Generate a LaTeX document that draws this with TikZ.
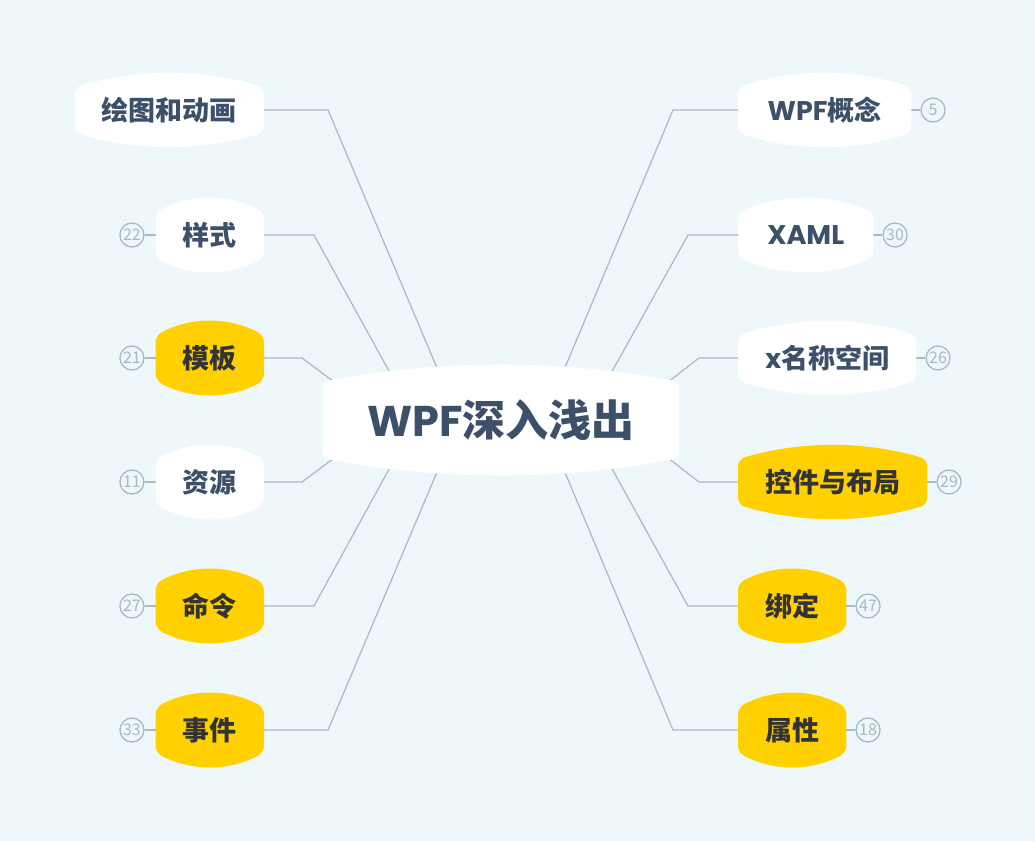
\documentclass[tikz,border=0pt]{standalone}
\usepackage{fontspec}
\setmainfont{Noto Sans CJK SC}
\newfontfamily\latinfont{Poppins}
\usepackage{tikz}
\usetikzlibrary{calc,positioning}

\definecolor{paper}{HTML}{EEF7FA}
\definecolor{ink}{HTML}{3D5069}
\definecolor{darkink}{HTML}{333333}
\definecolor{gold}{HTML}{FFD100}
\definecolor{wire}{HTML}{A8B8C9}

\pgfdeclarelayer{background}
\pgfsetlayers{background,main}

% cushion shape behind a node: node, bulge, fill
\newcommand{\blob}[3]{%
  \fill[#3, rounded corners=7pt]
    let \p1=(#1.north west), \p2=(#1.south east), \n1={(\x2-\x1)/3} in
    (\x1,\y1-#2pt)
    .. controls (\x1+\n1,\y1+#2pt/3) and (\x2-\n1,\y1+#2pt/3) .. (\x2,\y1-#2pt)
    -- (\x2,\y2+#2pt)
    .. controls (\x2-\n1,\y2-#2pt/3) and (\x1+\n1,\y2-#2pt/3) .. (\x1,\y2+#2pt)
    -- cycle;
}

\begin{document}
\begin{tikzpicture}[x=1pt, y=-1pt,
  topic/.style={inner sep=0pt, minimum height=73pt, text=ink, font=\fontsize{27}{27}\bfseries},
  hot/.style={topic, text=darkink},
  tag/.style={circle, draw=wire, line width=1.3pt, inner sep=0pt, minimum size=24pt, text=wire, font=\fontsize{16}{16}\selectfont},
  link/.style={draw=wire, line width=1.2pt}]

\useasboundingbox (0,0) rectangle (1035,841);

\node[topic, minimum width=356pt, minimum height=110pt, font=\fontsize{43}{43}\bfseries] (c) at (501,420) {{\latinfont WPF}深入浅出};

\node[topic, minimum width=189pt, anchor=east] (d1) at (264,110) {绘图和动画};
\node[topic, minimum width=108pt, anchor=east] (d2) at (264,235) {样式};
\node[hot, minimum width=108pt, anchor=east] (d3) at (264,358) {模板};
\node[topic, minimum width=108pt, anchor=east] (d4) at (264,482) {资源};
\node[hot, minimum width=108pt, anchor=east] (d5) at (264,606) {命令};
\node[hot, minimum width=108pt, anchor=east] (d6) at (264,730) {事件};

\node[topic, minimum width=173pt, anchor=west] (r1) at (738,110) {{\latinfont WPF}概念};
\node[topic, minimum width=135pt, anchor=west] (r2) at (738,235) {\latinfont XAML};
\node[topic, minimum width=178pt, anchor=west] (r3) at (738,358) {{\latinfont x}名称空间};
\node[hot, minimum width=189pt, anchor=west] (r4) at (738,482) {控件与布局};
\node[hot, minimum width=108pt, anchor=west] (r5) at (738,606) {绑定};
\node[hot, minimum width=108pt, anchor=west] (r6) at (738,730) {属性};

\node[tag, left=11pt of d2] (n2) {22};
\node[tag, left=11pt of d3] (n3) {21};
\node[tag, left=11pt of d4] (n4) {11};
\node[tag, left=11pt of d5] (n5) {27};
\node[tag, left=11pt of d6] (n6) {33};
\node[tag, right=9pt of r1] (m1) {5};
\node[tag, right=9pt of r2] (m2) {30};
\node[tag, right=9pt of r3] (m3) {26};
\node[tag, right=9pt of r4] (m4) {29};
\node[tag, right=9pt of r5] (m5) {47};
\node[tag, right=9pt of r6] (m6) {18};

\begin{pgfonlayer}{background}
  \fill[paper] (0,0) rectangle (1035,841);

  % branches to the central topic
  \draw[link] (d1.east) -- ++(64,0) -- ($(c)+(-42,0)$);
  \draw[link] (d2.east) -- ++(50,0) -- ($(c)+(-85,0)$);
  \draw[link] (d3.east) -- ++(38,0) -- ($(c)+(-116,0)$);
  \draw[link] (d4.east) -- ++(38,0) -- ($(c)+(-116,0)$);
  \draw[link] (d5.east) -- ++(50,0) -- ($(c)+(-85,0)$);
  \draw[link] (d6.east) -- ++(64,0) -- ($(c)+(-42,0)$);
  \draw[link] (r1.west) -- ++(-65,0) -- ($(c)+(42,0)$);
  \draw[link] (r2.west) -- ++(-50,0) -- ($(c)+(84,0)$);
  \draw[link] (r3.west) -- ++(-39,0) -- ($(c)+(118,0)$);
  \draw[link] (r4.west) -- ++(-39,0) -- ($(c)+(118,0)$);
  \draw[link] (r5.west) -- ++(-50,0) -- ($(c)+(84,0)$);
  \draw[link] (r6.west) -- ++(-65,0) -- ($(c)+(42,0)$);

  % counters
  \foreach \a/\b in {d2/n2, d3/n3, d4/n4, d5/n5, d6/n6, r1/m1, r2/m2, r3/m3, r4/m4, r5/m5, r6/m6}
    \draw[link] (\a) -- (\b);

  \foreach \k/\h/\f in {c/17/white, d1/14/white, d2/14/white, d3/14/gold, d4/14/white, d5/14/gold, d6/14/gold,
                        r1/14/white, r2/14/white, r3/14/white, r4/14/gold, r5/14/gold, r6/14/gold}
    \blob{\k}{\h}{\f};
\end{pgfonlayer}

\end{tikzpicture}
\end{document}
